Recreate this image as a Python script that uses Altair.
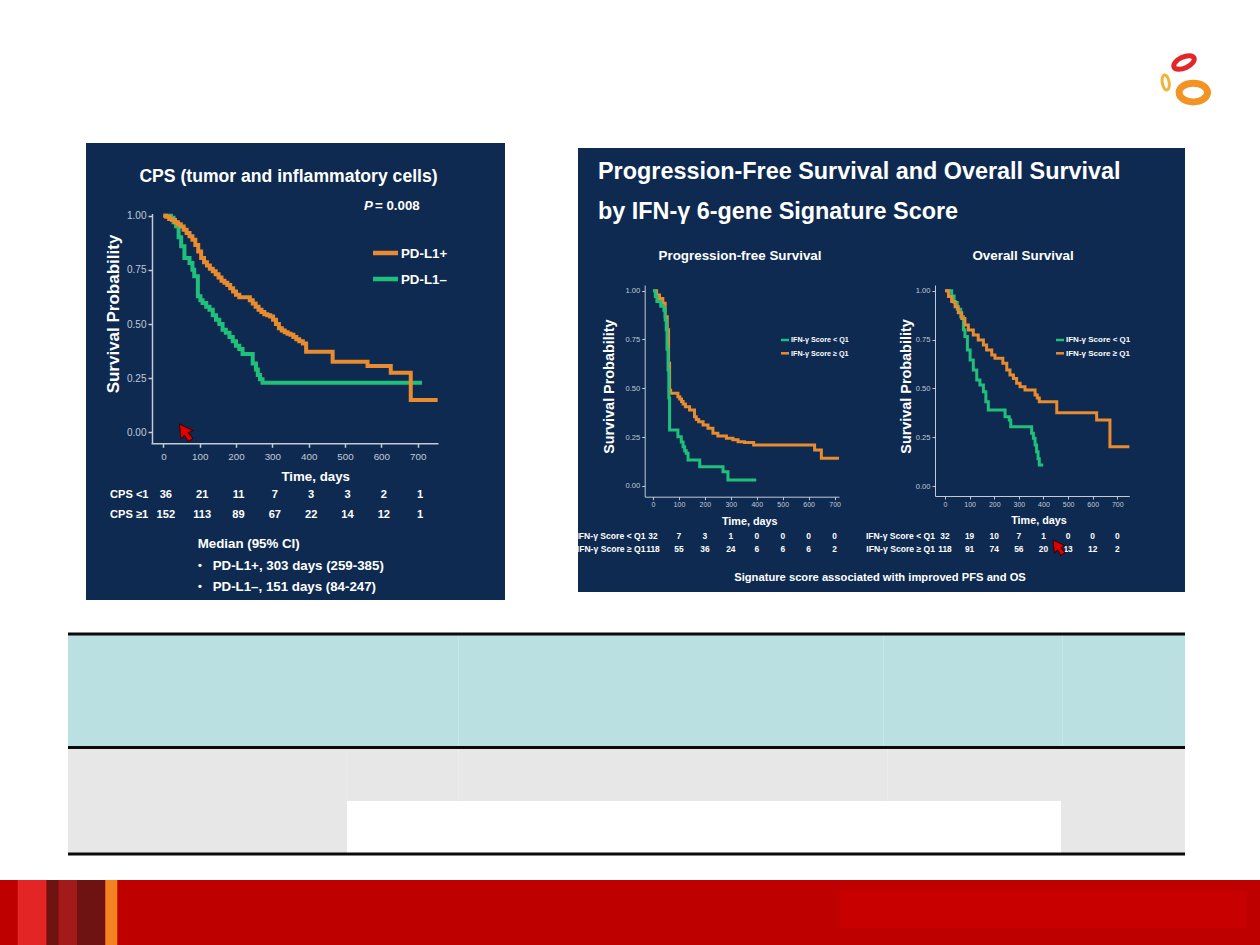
import altair as alt
import pandas as pd

# ---------------- data ----------------
# Left panel: CPS (tumor and inflammatory cells) – Kaplan-Meier steps (time in days, survival after event)
cps_pos_t = [0, 8, 16, 24, 32, 40, 48, 56, 64, 72, 80, 88, 96, 104, 112, 120, 128, 136, 144, 152, 160,
             168, 176, 184, 192, 200, 209, 238, 246, 254, 262, 270, 278, 286, 294, 302, 310, 318, 326,
             334, 342, 350, 358, 366, 374, 384, 393, 466, 562, 626, 681, 755]
cps_pos_s = [1.0, 0.995, 0.985, 0.98, 0.97, 0.96, 0.95, 0.935, 0.92, 0.905, 0.889, 0.865, 0.835, 0.805,
             0.785, 0.77, 0.755, 0.743, 0.73, 0.715, 0.70, 0.69, 0.68, 0.665, 0.65, 0.635, 0.623, 0.61,
             0.595, 0.58, 0.566, 0.555, 0.545, 0.54, 0.535, 0.52, 0.50, 0.481, 0.47, 0.462, 0.455, 0.45,
             0.44, 0.43, 0.42, 0.41, 0.372, 0.326, 0.306, 0.275, 0.149, 0.149]
cps_neg_t = [0, 21, 28, 35, 42, 49, 58, 72, 80, 85, 95, 102, 108, 118, 127, 136, 145, 154, 163, 172, 182,
             191, 200, 209, 218, 246, 255, 260, 266, 273, 712]
cps_neg_s = [1.0, 0.99, 0.97, 0.951, 0.90, 0.859, 0.805, 0.782, 0.75, 0.72, 0.628, 0.61, 0.597, 0.58,
             0.566, 0.54, 0.52, 0.50, 0.474, 0.46, 0.44, 0.42, 0.40, 0.385, 0.362, 0.318, 0.29, 0.265,
             0.245, 0.229, 0.229]
risk_days = [0, 100, 200, 300, 400, 500, 600, 700]
cps_lt1_n = [36, 21, 11, 7, 3, 3, 2, 1]
cps_ge1_n = [152, 113, 89, 67, 22, 14, 12, 1]

# Right panel: progression-free survival by IFN-gamma score
pfs_low_t = [0, 9, 15, 30, 42, 47, 51, 54, 58, 61, 64, 96, 109, 116, 122, 128, 135, 180, 270, 289, 398]
pfs_low_s = [1.0, 0.97, 0.944, 0.92, 0.90, 0.85, 0.80, 0.70, 0.594, 0.45, 0.287, 0.252, 0.225, 0.201,
             0.18, 0.167, 0.133, 0.099, 0.073, 0.031, 0.031]
pfs_high_t = [0, 14, 25, 38, 47, 55, 60, 64, 68, 96, 103, 110, 116, 125, 141, 160, 167, 176, 193, 212,
              231, 250, 283, 308, 328, 353, 388, 623, 649, 717]
pfs_high_s = [1.0, 0.978, 0.96, 0.935, 0.867, 0.80, 0.628, 0.49, 0.475, 0.457, 0.445, 0.432, 0.42,
              0.406, 0.389, 0.355, 0.34, 0.329, 0.312, 0.295, 0.27, 0.256, 0.244, 0.236, 0.227, 0.222,
              0.21, 0.184, 0.142, 0.142]
pfs_low_n = [32, 7, 3, 1, 0, 0, 0, 0]
pfs_high_n = [118, 55, 36, 24, 6, 6, 6, 2]

# Right panel: overall survival by IFN-gamma score
os_low_t = [0, 27, 37, 50, 64, 75, 81, 91, 102, 115, 129, 142, 156, 166, 176, 244, 261, 267, 352, 359,
            366, 372, 378, 383, 399]
os_low_s = [1.0, 0.973, 0.939, 0.905, 0.867, 0.80, 0.765, 0.696, 0.645, 0.594, 0.543, 0.517, 0.483,
            0.432, 0.389, 0.355, 0.338, 0.304, 0.27, 0.244, 0.21, 0.176, 0.14, 0.108, 0.108]
os_high_t = [0, 14, 27, 41, 54, 68, 81, 95, 115, 135, 156, 169, 190, 203, 235, 251, 264, 278, 291, 305,
             325, 366, 375, 383, 454, 616, 670, 749]
os_high_s = [1.0, 0.97, 0.944, 0.918, 0.887, 0.858, 0.824, 0.799, 0.773, 0.748, 0.722, 0.696, 0.671,
             0.654, 0.628, 0.594, 0.568, 0.551, 0.526, 0.508, 0.491, 0.466, 0.45, 0.432, 0.375, 0.338,
             0.201, 0.201]
os_low_n = [32, 19, 10, 7, 1, 0, 0, 0]
os_high_n = [118, 91, 74, 56, 20, 13, 12, 2]

time_ticks = [0, 100, 200, 300, 400, 500, 600, 700]
surv_ticks = [0, 0.25, 0.5, 0.75, 1.0]

# ---------------- styling ----------------
NAVY = "#0e2a51"
ORANGE = "#e98b2f"
GREEN = "#20c07a"
AX = "#c3cad6"
SANS = "Liberation Sans, Arial, sans-serif"
W, H = 1260, 945
ONE = pd.DataFrame({"k": [0]})


def box(x, x2, y, y2, color):
    return alt.Chart(ONE).mark_rect(color=color).encode(
        x=alt.value(x), x2=alt.value(x2), y=alt.value(y), y2=alt.value(y2))


def label(s, x, y, size, color="white", font=SANS, weight="bold", align="left",
          baseline="middle", angle=0, style="normal"):
    kw = dict(text=s, fontSize=size, color=color, font=font, fontWeight=weight,
              align=align, baseline=baseline, fontStyle=style)
    if angle:
        kw["angle"] = angle
    return alt.Chart(ONE).mark_text(**kw).encode(x=alt.value(x), y=alt.value(y))


def seg(x, x2, y, color, w):
    return alt.Chart(ONE).mark_rule(color=color, strokeWidth=w).encode(
        x=alt.value(x), x2=alt.value(x2), y=alt.value(y))


def blob(x, y, path, size, color, sw, angle=0, fill=None):
    kw = dict(shape=path, size=size, stroke=color, strokeWidth=sw, filled=fill is not None,
              opacity=1, strokeOpacity=1)
    if fill is not None:
        kw["fill"] = fill
        kw["fillOpacity"] = 1
    if angle:
        kw["angle"] = angle
    return alt.Chart(ONE).mark_point(**kw).encode(x=alt.value(x), y=alt.value(y))


def xscale(d0, d1, r0, r1):
    return alt.Scale(domain=[d0, d1], range=[r0, r1], nice=False, zero=False)


def xaxis(axis_y, size, tick, pad, dw):
    return alt.Axis(orient="bottom", offset=axis_y - H, values=time_ticks, title=None, grid=False,
                    format="d", labelFont=SANS, labelFontSize=size, labelColor=AX, tickColor=AX,
                    domainColor=AX, domainWidth=dw, tickWidth=dw, tickSize=tick, labelPadding=pad,
                    labelFlush=False, labelOverlap=False, zindex=2)


def yaxis(axis_x, size, tick, pad, dw):
    return alt.Axis(orient="left", offset=-axis_x, values=surv_ticks, title=None, grid=False,
                    format=".2f", labelFont=SANS, labelFontSize=size, labelColor=AX, tickColor=AX,
                    domainColor=AX, domainWidth=dw, tickWidth=dw, tickSize=tick, labelPadding=pad,
                    labelFlush=False, labelOverlap=False, zindex=2)


def km(t, s, color, width, xs, ys, xa=None, ya=None):
    df = pd.DataFrame({"t": t, "s": s})
    return alt.Chart(df).mark_line(interpolate="step-after", color=color, strokeWidth=width).encode(
        x=alt.X("t:Q", scale=xs, axis=xa), y=alt.Y("s:Q", scale=ys, axis=ya))


def risk(n, xs, y, size, dx=0):
    df = pd.DataFrame({"t": risk_days, "n": n})
    return alt.Chart(df).mark_text(color="white", font=SANS, fontWeight="bold", fontSize=size,
                                   align="center", baseline="middle", dx=dx).encode(
        x=alt.X("t:Q", scale=xs, axis=None), y=alt.value(y), text="n:Q")


layers = []

# ---------------- left panel ----------------
layers.append(box(86, 505, 143, 600, NAVY))
L_xs = xscale(-34, 756, 151, 438)
L_ys = alt.Scale(domain=[-0.049, 1.01], range=[443, 213.5], nice=False, zero=False)
layers += [
    km(cps_neg_t, cps_neg_s, GREEN, 4, L_xs, L_ys),
    km(cps_pos_t, cps_pos_s, ORANGE, 4, L_xs, L_ys,
       xa=xaxis(443.3, 9.8, 4, 4, 1.5), ya=yaxis(152, 10, 4, 2, 1.5)),
    label("CPS (tumor and inflammatory cells)", 288.5, 177, 17.6, align="center"),
    label("P", 364, 206, 13.3, style="italic"),
    label("= 0.008", 375, 206, 13.3),
    seg(373, 398, 253, ORANGE, 4.5),
    seg(373, 398, 279, GREEN, 4.5),
    label("PD-L1+", 401, 254, 13.3),
    label("PD-L1\u2013", 401, 279.5, 13.3),
    label("Survival Probability", 113.5, 314, 17, align="center", angle=270),
    label("Time, days", 315.7, 476.5, 13.3, align="center"),
    label("CPS <1", 110, 495.3, 11.1),
    label("CPS \u22651", 110, 514.7, 11.1),
    risk(cps_lt1_n, L_xs, 495.3, 11.1, dx=2.5),
    risk(cps_ge1_n, L_xs, 514.7, 11.1, dx=2.5),
    label("Median (95% CI)", 197.7, 544, 13.3),
    label("\u2022", 200, 565.5, 11, align="center"),
    label("PD-L1+, 303 days (259-385)", 212.7, 565.5, 13.3),
    label("\u2022", 200, 587, 11, align="center"),
    label("PD-L1\u2013, 151 days (84-247)", 212.7, 587, 13.3),
]

# ---------------- right panel ----------------
layers.append(box(578, 1185, 148, 592, NAVY))
P_xs = xscale(-32, 717, 644.7, 839)
P_ys = alt.Scale(domain=[-0.055, 1.029], range=[496.7, 285], nice=False, zero=False)
O_xs = xscale(-40.6, 748.7, 935, 1129.3)
O_ys = alt.Scale(domain=[-0.051, 1.029], range=[496, 285], nice=False, zero=False)
layers += [
    label("Progression-Free Survival and Overall Survival", 598, 178.5, 23.4, baseline="alphabetic"),
    label("by IFN-\u03b3 6-gene Signature Score", 598, 218.5, 23.4, baseline="alphabetic"),
    label("Progression-free Survival", 740, 256, 13.4, align="center"),
    label("Overall Survival", 1023, 256, 13.4, align="center"),
    # PFS
    km(pfs_high_t, pfs_high_s, ORANGE, 3, P_xs, P_ys,
       xa=xaxis(496.7, 7, 3, 1, 1), ya=yaxis(644.7, 7.6, 3, 2, 1)),
    km(pfs_low_t, pfs_low_s, GREEN, 3, P_xs, P_ys),
    seg(781, 789, 340, GREEN, 2.5),
    seg(781, 789, 353.3, ORANGE, 2.5),
    label("IFN-\u03b3 Score < Q1", 791, 340, 7.2),
    label("IFN-\u03b3 Score \u2265 Q1", 791, 353.5, 7.2),
    label("Survival Probability", 610, 386.7, 14.4, align="center", angle=270),
    label("Time, days", 749.7, 522, 10.8, align="center"),
    # OS
    km(os_low_t, os_low_s, GREEN, 3, O_xs, O_ys),
    km(os_high_t, os_high_s, ORANGE, 3, O_xs, O_ys,
       xa=xaxis(496, 7, 3, 1, 1), ya=yaxis(935, 7.6, 3, 2, 1)),
    seg(1056, 1064, 340, GREEN, 2.5),
    seg(1056, 1064, 353.3, ORANGE, 2.5),
    label("IFN-\u03b3 Score < Q1", 1066, 340, 8),
    label("IFN-\u03b3 Score \u2265 Q1", 1066, 353.5, 8),
    label("Survival Probability", 906.7, 386.5, 14.4, align="center", angle=270),
    label("Time, days", 1039, 521, 10.8, align="center"),
    # numbers at risk
    label("IFN-\u03b3 Score < Q1", 645.5, 535.7, 8.6, align="right"),
    label("IFN-\u03b3 Score \u2265 Q1", 645.5, 548.5, 8.6, align="right"),
    risk(pfs_low_n, P_xs, 535.7, 8.4),
    risk(pfs_high_n, P_xs, 548.5, 8.4),
    label("IFN-\u03b3 Score < Q1", 935, 535.7, 8.6, align="right"),
    label("IFN-\u03b3 Score \u2265 Q1", 935, 548.5, 8.6, align="right"),
    risk(os_low_n, O_xs, 535.7, 8.4),
    risk(os_high_n, O_xs, 548.5, 8.4),
    label("Signature score associated with improved PFS and OS", 880, 578.3, 11.2, align="center"),
]

# mouse-pointer artefacts captured on the slide
ARROW = "M0,-1 L0.75,0.35 L0.22,0.25 L0.3,1 L-0.3,1 L-0.22,0.25 L-0.75,0.35 Z"
layers += [
    blob(185, 432, ARROW, 380, "#3a0000", 1, angle=325, fill="#e00000"),
    blob(1058, 547, ARROW, 300, "#3a0000", 1, angle=325, fill="#e00000"),
]

# ---------------- table ----------------
TBL = [68, 1185]
layers += [
    box(TBL[0], TBL[1], 635, 747, "#bae0e2"),
    box(458, 459, 635, 747, "#c6e7e9"),
    box(883, 884, 635, 747, "#c6e7e9"),
    box(1062, 1063, 635, 747, "#c6e7e9"),
    box(TBL[0], TBL[1], 748, 853, "#e7e7e7"),
    box(346.5, 347.5, 748, 801, "#ececec"),
    box(458, 459, 748, 801, "#ececec"),
    box(887, 888, 748, 801, "#ececec"),
    box(347, 1061, 801, 853, "#ffffff"),
    box(TBL[0], TBL[1], 632.5, 635.5, "#0b0b0b"),
    box(TBL[0], TBL[1], 746, 749, "#0b0b0b"),
    box(TBL[0], TBL[1], 852.5, 855.5, "#0b0b0b"),
]

# ---------------- footer ----------------
layers += [
    box(0, W, 880, H, "#bf0000"),
    box(17.7, 46.6, 880, H, "#e32526"),
    box(46.6, 58.7, 880, H, "#6e1212"),
    box(58.7, 77.1, 880, H, "#a31a1a"),
    box(77.1, 105.3, 880, H, "#6e1212"),
    box(105.3, 117.3, 880, H, "#f58220"),
    box(840, 1246, 890.7, 928, "#c80000"),
]

# ---------------- logo ----------------
ELL_WIDE = "M-1,0 A1,0.5 0 1,1 1,0 A1,0.5 0 1,1 -1,0 Z"
ELL_MID = "M-1,0 A1,0.66 0 1,1 1,0 A1,0.66 0 1,1 -1,0 Z"
ELL_TALL = "M0,-1 A0.45,1 0 1,1 0,1 A0.45,1 0 1,1 0,-1 Z"
layers += [
    blob(1184, 62.5, ELL_WIDE, 484, "#e3262a", 5, angle=335),
    blob(1165.7, 82.5, ELL_TALL, 237, "#f2b33d", 3, angle=350),
    blob(1193.3, 92.5, ELL_MID, 807, "#f39325", 7),
]

chart = alt.layer(*layers).resolve_scale(x="independent", y="independent").resolve_axis(
    x="independent", y="independent"
).properties(
    width=W, height=H, padding=0, autosize="none", background="white"
).configure_view(stroke=None)

chart.save("out.html", embed_options={"renderer": "svg", "actions": False})
